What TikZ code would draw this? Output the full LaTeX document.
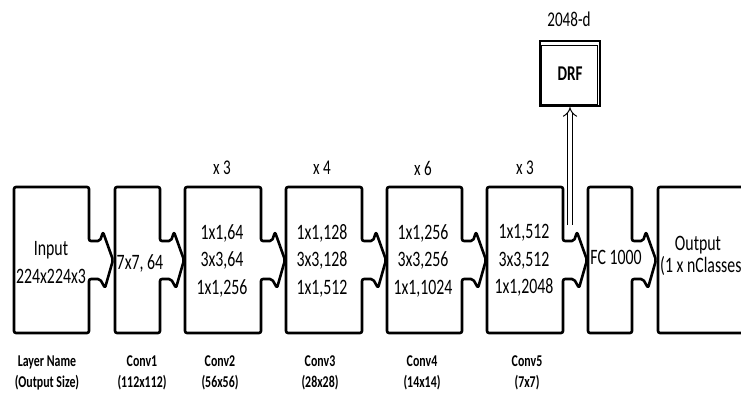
\documentclass[tikz,border=0pt]{standalone}
\usepackage{fontspec}
\setmainfont{Carlito}[FakeStretch=0.72]
\usetikzlibrary{arrows.meta}
\newcommand{\stageoutline}[2]{%
\draw[stage] (#1,61) -- (#1,207) -- (#2,207) -- (#2,153) -- ++(11,0) -- ++(3,9) -- ++(10,-28)
  -- ++(-8,-28) -- ++(-5,9) -- ++(-11,0) -- (#2,61) -- cycle;}
\tikzset{
stage/.style={draw=black,line width=2.6pt,rounded corners=2pt,line join=round},
spec/.style={align=center,inner sep=1pt,font=\fontsize{22}{27.5}\selectfont},
reps/.style={inner sep=1pt,font=\fontsize{21}{24}\selectfont},
layername/.style={align=center,inner sep=1pt,font=\fontsize{16.5}{21}\selectfont\bfseries},
drfbox/.style={draw=black,line width=2.4pt,minimum width=60pt,minimum height=65pt,inner sep=0pt,font=\fontsize{21}{24}\selectfont\bfseries},
tapline/.style={double,double distance=4pt,line width=1pt,-{Implies}}
}
\begin{document}
\begin{tikzpicture}[x=1pt,y=1pt]
\useasboundingbox (0,0) rectangle (741,394);
\clip (0,0) rectangle (741,394);
% stages with notched right side
\foreach \l/\r in {14/89,115/160,185/261,286/362,387/462,487/563,588/632}
  \stageoutline{\l}{\r};
\draw[stage] (770,207) -- (658,207) -- (658,61) -- (770,61);
% texts inside the stages
\node[spec] (input) at (51,131.5) {Input\\224x224x3};
\node[spec] (conv1) at (140,131) {7x7, 64};
\node[spec] (conv2) at (222,133.5) {1x1,64\\3x3,64\\1x1,256};
\node[spec] (conv3) at (322,133.5) {1x1,128\\3x3,128\\1x1,512};
\node[spec] (conv4) at (423,133.5) {1x1,256\\3x3,256\\1x1,1024};
\node[spec] (conv5) at (524,133.5) {1x1,512\\3x3,512\\1x1,2048};
\node[spec] (fc) at (616,137) {FC 1000};
\node[spec] (outname) at (698,149) {Output};
\node[spec,anchor=west] (outsize) at (659,128) {(1 x nClasses};
% repetitions
\node[reps] (rep2) at (222,226) {x 3};
\node[reps] (rep3) at (322,226) {x 4};
\node[reps] (rep4) at (423,226) {x 6};
\node[reps] (rep5) at (525,226) {x 3};
% layer names
\node[layername] (nm0) at (47,21.5) {Layer Name\\(Output Size)};
\node[layername] (nm1) at (142,21.5) {Conv1\\(112x112)};
\node[layername] (nm2) at (220,21.5) {Conv2\\(56x56)};
\node[layername] (nm3) at (320,21.5) {Conv3\\(28x28)};
\node[layername] (nm4) at (422,21.5) {Conv4\\(14x14)};
\node[layername] (nm5) at (527,21.5) {Conv5\\(7x7)};
% DRF branch
\node[drfbox] (drf) at (570,320.5) {DRF};
\draw[line width=0.9pt] ([shift={(3,3)}]drf.south west) rectangle ([shift={(-4,-6)}]drf.north east);
\node[reps] (drfdim) at (569,375) {2048-d};
\coordinate (tap) at (570,169);
\draw[tapline] (tap) -- (drf.south);
\end{tikzpicture}
\end{document}
